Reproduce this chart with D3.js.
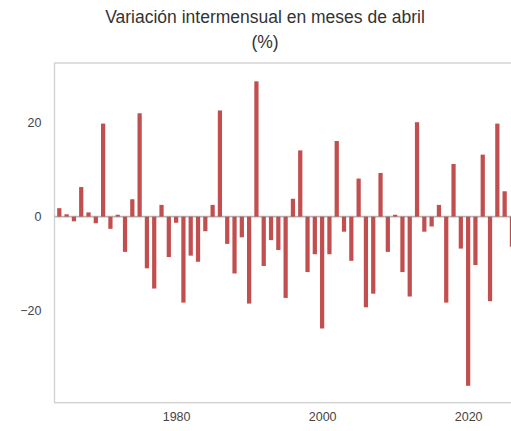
<!DOCTYPE html>
<html>
<head>
<meta charset="utf-8">
<script src="https://cdn.jsdelivr.net/npm/d3@7"></script>
<style>
  html, body { margin: 0; padding: 0; background: #fff; overflow: hidden; }
  svg { display: block; }
</style>
</head>
<body>
<script>
const years = d3.range(1964, 2027);
const values = [
  1.8, 0.5, -1.0, 6.3, 0.9, -1.4, 19.8, -2.6, 0.4, -7.5,
  3.7, 22.0, -11.0, -15.3, 2.5, -8.6, -1.3, -18.3, -8.3, -9.6,
  -3.1, 2.5, 22.6, -5.8, -12.1, -4.4, -18.5, 28.8, -10.5, -5.0,
  -7.1, -17.3, 3.8, 14.1, -11.8, -8.0, -23.8, -8.0, 16.1, -3.2,
  -9.4, 8.1, -19.3, -16.4, 9.3, -7.5, 0.4, -11.8, -17.0, 20.1,
  -3.2, -2.1, 2.5, -18.3, 11.2, -6.8, -36.0, -10.3, 13.2, -18.0,
  19.8, 5.4, -6.4
];
const xTicks = [1980, 2000, 2020];
const yTicks = [-20, 0, 20];
const titleLines = ["Variación intermensual en meses de abril", "(%)"];

const W = 560, H = 431;
const pLeft = 54.5, pTop = 63, pBottom = 402.7, pRight = 520.7;

const svg = d3.select("body").append("svg").attr("width", W).attr("height", H);

const x = d3.scaleLinear().domain([1963.34, 2027.2]).range([pLeft, pRight]);
const y = d3.scaleLinear().domain([-39.6, 32.7]).range([pBottom, pTop]);
const step = x(1965) - x(1964);
const bw = step * 0.58;

// frame
svg.append("rect")
  .attr("x", pLeft).attr("y", pTop)
  .attr("width", pRight - pLeft).attr("height", pBottom - pTop)
  .attr("fill", "none").attr("stroke", "#cfcfcf").attr("stroke-width", 1.3);

// zero line
svg.append("line")
  .attr("x1", pLeft).attr("x2", pRight)
  .attr("y1", y(0)).attr("y2", y(0))
  .attr("stroke", "#b5b5b5").attr("stroke-width", 1.6);

// bars
svg.append("g").selectAll("rect").data(years).join("rect")
  .attr("x", (d) => x(d) - bw / 2)
  .attr("width", bw)
  .attr("y", (d, i) => y(Math.max(0, values[i])))
  .attr("height", (d, i) => Math.abs(y(values[i]) - y(0)))
  .attr("fill", "#c24f4f");

// axes (labels only)
const fmt = (d) => (d < 0 ? "\u2212" + Math.abs(d) : String(d));
const yAxis = svg.append("g")
  .attr("transform", `translate(${pLeft},0)`)
  .call(d3.axisLeft(y).tickValues(yTicks).tickFormat(fmt).tickSize(0).tickPadding(13));
const xAxis = svg.append("g")
  .attr("transform", `translate(0,${pBottom})`)
  .call(d3.axisBottom(x).tickValues(xTicks).tickFormat(d3.format("d")).tickSize(0).tickPadding(9));
[yAxis, xAxis].forEach((g) => {
  g.select(".domain").remove();
  g.selectAll("text")
    .attr("fill", "#444")
    .style("font-family", "Liberation Sans, Arial, sans-serif")
    .style("font-size", "12.5px");
});

// title
svg.append("g").selectAll("text").data(titleLines).join("text")
  .attr("x", 265)
  .attr("y", (d, i) => 22.5 + i * 25)
  .attr("text-anchor", "middle")
  .attr("fill", "#333")
  .style("font-family", "Liberation Sans, Arial, sans-serif")
  .style("font-size", "17.5px")
  .text((d) => d);
</script>
</body>
</html>
